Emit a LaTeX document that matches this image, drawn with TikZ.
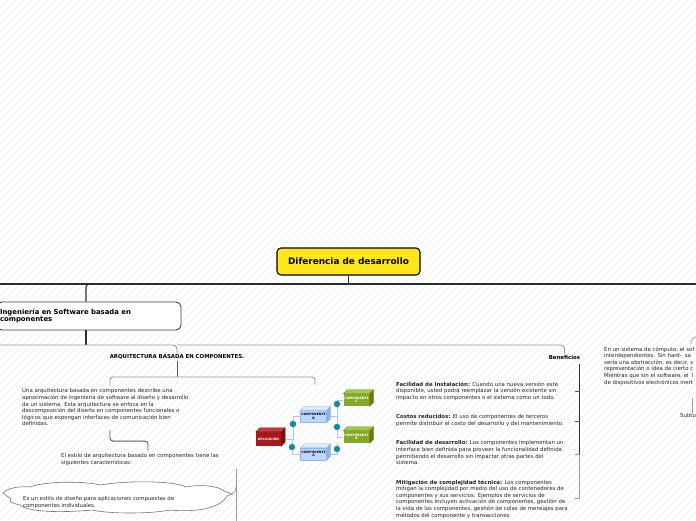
\documentclass[tikz,border=0pt]{standalone}
\usepackage{fontspec}
\setmainfont{DejaVu Sans}
\usetikzlibrary{backgrounds}
\definecolor{maintopic}{HTML}{FFE61A}
\definecolor{linedark}{HTML}{2E2E2E}
\definecolor{apred}{HTML}{A8191C}
\definecolor{apredtop}{HTML}{C8383A}
\definecolor{apredside}{HTML}{7A0E10}
\definecolor{cblue}{HTML}{BED6F8}
\definecolor{cbluetop}{HTML}{DCEAFC}
\definecolor{cblueside}{HTML}{8FB4E6}
\definecolor{cgreen}{HTML}{86A82A}
\definecolor{cgreentop}{HTML}{A6C44A}
\definecolor{cgreenside}{HTML}{617E16}
\definecolor{iface}{HTML}{1B87A6}
\definecolor{wirec}{HTML}{A9C8EC}

% top and right faces of a 3d box
\newcommand{\extrude}[3]{%
  \filldraw[#2, draw=#3, line width=0.3pt] (#1.north west) -- ++(4,-4)
    -- ([shift={(4,-4)}]#1.north east) -- (#1.north east) -- cycle;
  \filldraw[#3, draw=#3, line width=0.3pt] (#1.north east)
    -- ([shift={(4,-4)}]#1.north east) -- ([shift={(4,-4)}]#1.south east)
    -- (#1.south east) -- cycle;}

\begin{document}
\begin{tikzpicture}[
    x=1pt, y=-1pt,
    hatch/.style={black!6, line width=0.5pt},
    mainbox/.style={rectangle, rounded corners=4pt, draw=black, line width=1.1pt,
                    fill=maintopic, minimum width=143pt, minimum height=27pt,
                    font=\fontsize{8.9}{9.8}\selectfont\bfseries},
    topicbox/.style={rectangle, rounded corners=5pt, draw=black!75, line width=0.9pt,
                     fill=white, minimum height=28pt, text width=178pt, inner xsep=3pt,
                     align=left, font=\fontsize{6.9}{7.8}\selectfont\bfseries},
    mainline/.style={linedark, line width=1.1pt},
    deepline/.style={black!65, line width=0.9pt},
    subline/.style={black!40, line width=0.9pt},
    head/.style={font=\fontsize{5.4}{6}\selectfont\bfseries, inner sep=1pt},
    txt/.style={font=\fontsize{5.4}{6.6}\selectfont, text=black!85, align=left,
                anchor=north west, inner sep=0pt},
    cloudline/.style={draw=black!55, line width=0.6pt, fill=white},
    comp/.style={rectangle, minimum width=26pt, minimum height=12pt, inner sep=0pt,
                 align=center, font=\fontsize{3.1}{3.6}\selectfont\bfseries},
    port/.style={circle, fill=iface, minimum size=6.5pt, inner sep=0pt},
    wire/.style={wirec, line width=0.8pt},
]
\useasboundingbox (0,0) rectangle (696,520);
\clip (0,0) rectangle (696,520);
\begin{scope}[on background layer]
    \fill[white] (0,0) rectangle (696,520);
    \foreach \i in {-520,-512,...,696}
        \draw[hatch] (\i,520) -- (\i+520,0);
\end{scope}

% ---- main topic ----
\node[mainbox] (dif) at (348.5,261.5) {Diferencia de desarrollo};
\coordinate (busW) at (-5,284);
\coordinate (busE) at (701,284);
\draw[mainline] (dif.south) -- (dif.south |- busW);
\draw[mainline] (busW) -- (busE);

% ---- Ingenieria en Software ----
\node[topicbox] (ing) at (89,316) {Ingeniería en Software basada en\\componentes};
\draw[mainline, rounded corners=4pt] ([xshift=-3pt]ing.north) |- ++(10,-18);
\draw[mainline] ([xshift=-3pt]ing.south) -- ++(0,15);

\coordinate (subW) at (-5,345);
\node[head] (arq) at (177,357) {ARQUITECTURA BASADA EN COMPONENTES.};
\node[head] (ben) at (564.5,357) {Beneficios};
\draw[subline, rounded corners=4pt] (subW) -| (arq.north);
\draw[subline, rounded corners=4pt] (arq.north |- subW) -| (ben.north);

% ---- arquitectura ----
\coordinate (arqJ) at (177,377);
\coordinate (img) at (315,385);
\draw[deepline] (arq.south) -- (arqJ);
\node[txt] (par1) at (22,388.5) {Una arquitectura basada en componentes describe una\\
    aproximación de ingeniería de software al diseño y desarrollo\\
    de un sistema. Esta arquitectura se enfoca en la\\
    descomposición del diseño en componentes funcionales o\\
    lógicos que expongan interfaces de comunicación bien\\
    definidas.};
\draw[subline, rounded corners=3pt] ([shift={(88,-3)}]par1.north west) |- (arqJ) -| (img);
\node[txt] (par2) at (61,453.5) {El estilo de arquitectura basado en componentes tiene las\\
    siguientes características:};
\draw[deepline, rounded corners=3pt] ([shift={(88,4)}]par1.south west) -- ++(0,11)
    -| ([shift={(87,-3)}]par2.north west);

% cloud drawn by hand
\draw[cloudline] (3,493) .. controls (8,488) and (18,486) .. (30,487)
    .. controls (45,481) and (85,481) .. (100,485)
    .. controls (130,480) and (175,481) .. (186,487)
    .. controls (200,484) and (219,486) .. (224,491)
    .. controls (227,492) .. (232,494)
    .. controls (227,496) .. (224,500)
    .. controls (214,510) and (190,512) .. (170,510)
    .. controls (150,514) and (110,514) .. (92,510)
    .. controls (60,513) and (28,512) .. (20,505)
    .. controls (12,503) and (8,502) .. (11,499)
    -- cycle;
\node[txt] (nube) at (23,496.5) {Es un estilo de diseño para aplicaciones compuestas de\\
    componentes individuales.};
\coordinate (brT) at (236,469);
\coordinate (brM) at (236,487);
\coordinate (brB) at (236,525);
\coordinate (nubeR) at (232,494);
\draw[subline, line width=0.7pt] (brT) -- (brB);
\draw[subline, line width=0.7pt] (nubeR) .. controls (235,492) .. (brM);

% ---- figura de componentes ----
\node[comp, fill=apred, text=white, minimum width=25pt, minimum height=14pt] (app) at (268.5,439) {APLICACIÓN};
\node[comp, fill=cblue, draw=cblueside, text=black!80!blue] (compB) at (313.5,416.5) {COMPONENTE\\B};
\node[comp, fill=cblue, draw=cblueside, text=black!80!blue] (compA) at (313.5,454) {COMPONENTE\\A};
\node[comp, fill=cgreen, text=white] (compC) at (356.5,400) {COMPONENTE\\C};
\node[comp, fill=cgreen, text=white] (compD) at (356.5,437) {COMPONENTE\\D};
\extrude{app}{apredtop}{apredside}
\extrude{compB}{cbluetop}{cblueside}
\extrude{compA}{cbluetop}{cblueside}
\extrude{compC}{cgreentop}{cgreenside}
\extrude{compD}{cgreentop}{cgreenside}
\node[port] (p1) at (293,424) {};
\node[port] (p2) at (292,447) {};
\node[port] (p3) at (337,404) {};
\node[port] (p4) at (337,427) {};
\node[port] (p5) at (337,449) {};
\begin{scope}[on background layer]
    \draw[wire] (app.east) -| (p1) |- (compB.west);
    \draw[wire] (app.east) -| (p2) |- (compA.west);
    \draw[wire] (compB.east) -| (p3) |- (compC.west);
    \draw[wire] (compB.east) -| (p4) |- (compD.west);
    \draw[wire] (compA.east) -| (p5) -- (p5 |- compD.south);
\end{scope}

% ---- beneficios ----
\coordinate (benT) at (579.5,364);
\coordinate (benM) at (579.5,454);
\coordinate (benB) at (579.5,498);
\draw[linedark, line width=0.9pt] (benT) -- (benM);
\draw[subline] (benM) -- (benB);
\foreach \y/\s in {391/deepline, 421/deepline, 454/subline, 498/subline}
    \draw[\s] (579.5,\y) -- ++(-5,0);
\node[txt] (ben1) at (396,381.5) {\textbf{Facilidad de Instalación:} Cuando una nueva versión esté\\
    disponible, usted podrá reemplazar la versión existente sin\\
    impacto en otros componentes o el sistema como un todo.};
\node[txt] (ben2) at (396,414.5) {\textbf{Costos reducidos:} El uso de componentes de terceros\\
    permite distribuir el costo del desarrollo y del mantenimiento.};
\node[txt] (ben3) at (396,440.5) {\textbf{Facilidad de desarrollo:} Los componentes implementan un\\
    interface bien definida para proveer la funcionalidad definida\\
    permitiendo el desarrollo sin impactar otras partes del\\
    sistema.};
\node[txt] (ben4) at (396,479.5) {\textbf{Mitigación de complejidad técnica:} Los componentes\\
    mitigan la complejidad por medio del uso de contenedores de\\
    componentes y sus servicios. Ejemplos de servicios de\\
    componentes incluyen activación de componentes, gestión de\\
    la vida de los componentes, gestión de colas de mensajes para\\
    métodos del componente y transacciones.};

% ---- hardware y software ----
\coordinate (hookA) at (691,344);
\coordinate (hookB) at (698,337);
\draw[subline, line width=0.7pt] (hookA) .. controls (691,339) and (693,337) .. (hookB);
\node[txt] (rtxt) at (604,346.5) {En un sistema de cómputo, el sof\\
    interdependientes. Sin hard-\hspace{3pt}sa\\
    sería una abstracción, es decir, s\\
    representación o idea de cierto c\\
    Mientras que sin el software, el\hspace{3pt}l\\
    de dispositivos electrónicos inert};
\coordinate (subT) at (692,398);
\node[txt, anchor=west] (sub) at (680,415) {Subto};
\draw[subline, line width=0.7pt] (subT) -- (sub.north -| subT);
\end{tikzpicture}
\end{document}
